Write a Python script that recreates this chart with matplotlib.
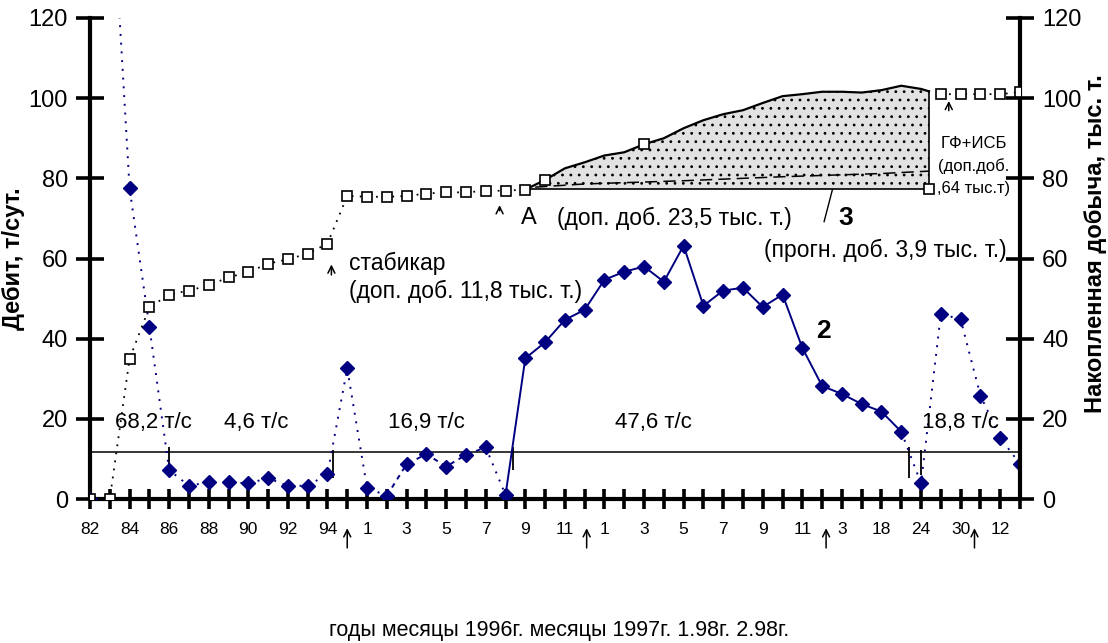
import numpy as np
import matplotlib.pyplot as plt

plt.rcParams['font.family'] = ['Liberation Sans', 'DejaVu Sans']
plt.rcParams['hatch.linewidth'] = 0.8

# --- данные ---
idx = np.arange(48)

years = ['82', '', '84', '', '86', '', '88', '', '90', '', '92', '', '94', '']
m1996 = ['1', '', '3', '', '5', '', '7', '', '9', '', '11', '']
m1997 = ['1', '', '3', '', '5', '', '7', '', '9', '', '11', '']
tail = ['3', '', '18', '', '24', '', '30', '', '12', '']
x_labels = years + m1996 + m1997 + tail

# дебит, т/сут (ромбы); точка 1 за пределами шкалы
debit = [0, 162, 77.5, 43, 7.2, 3.3, 4.2, 4.2, 3.9, 5.2, 3.3, 3.3, 6.2, 32.6,
         2.8, 0.8, 8.7, 11.2, 8.1, 11, 12.9, 1.0, 35.1, 39.1, 44.7, 47.2,
         54.7, 56.7, 58, 54.2, 63.2, 48.2, 52, 52.7, 47.9, 51, 37.7, 28.2,
         26.2, 23.7, 21.8, 16.8, 3.9, 46.2, 44.8, 25.8, 15.3, 8.7]
# участки линии дебита: (начало, конец, стиль)
debit_segments = [(1, 15, 'dot'), (15, 20, 'dash'), (20, 21, 'dot'),
                  (21, 41, 'solid'), (41, 47, 'dot')]

# накопленная добыча, тыс. т (квадраты)
cum_x = list(range(23))
cum_y = [0, 0, 35, 47.8, 51, 52, 53.3, 55.3, 56.6, 58.7, 59.8, 61.2, 63.7,
         75.6, 75.4, 75.4, 75.6, 76.2, 76.5, 76.5, 76.9, 76.9, 77.2]

# доп. добыча (заштрихованная область)
shade_x = list(range(22, 43)) + [42.4]
shade_top = [77.2, 79.6, 82.5, 84, 85.7, 86.5, 88.5, 90, 92.5, 94.5, 96, 97,
             98.8, 100.5, 101, 101.6, 101.6, 101.4, 102, 103.1, 102.3, 101.7]
shade_base = 77.3

# прогноз (кривая 3)
fc_x = [22.5, 25, 30, 35, 40, 42.4]
fc_y = [77.8, 78.6, 79.4, 80.4, 81.2, 81.8]

cum_late_x = [43, 44, 45, 46, 47]
cum_late_y = [101, 101, 101, 101, 101.5]

avg_level = 11.7
bound_x = [4, 12.3, 21.4, 41.4, 42.0]
bound_lo = [6.4, 5.2, 7.2, 5.2, 6.0]
bound_hi = [13, 12.2, 13, 13, 12.2]

period_labels = ['68,2 т/с', '4,6 т/с', '16,9 т/с', '47,6 т/с', '18,8 т/с']
period_x = [3.2, 8.4, 17.0, 28.5, 44.0]

arrow_x = [13, 25.1, 37.2, 44.7]

NAVY = '#000080'
styles = {'dot': (0, (1, 3.5)), 'dash': (0, (2.5, 2.5)), 'solid': '-'}

fig = plt.figure(figsize=(11.08, 6.43), dpi=100)
ax = fig.add_axes([90 / 1108, 144 / 643, 930 / 1108, 481 / 643])
ax2 = ax.twinx()

for a in (ax, ax2):
    a.set_xlim(0, 47)
    a.set_ylim(0, 120)
    a.set_yticks(range(0, 121, 20))
    for s in a.spines.values():
        s.set_linewidth(3)
    a.spines['top'].set_visible(False)
ax.spines['right'].set_visible(False)
ax2.spines['left'].set_visible(False)
ax2.spines['bottom'].set_visible(False)

ax.set_xticks(idx)
ax.set_xticklabels(x_labels)
ax.tick_params(axis='x', direction='inout', length=15, width=2.6,
               labelsize=12.5, pad=9)
ax.tick_params(axis='y', direction='inout', length=20, width=2.6,
               labelsize=17, pad=6)
ax2.tick_params(axis='y', direction='inout', length=20, width=2.6,
                labelsize=17, pad=6)

# средний уровень и границы периодов
ax.axhline(avg_level, color='black', lw=1.1, zorder=2)
ax.vlines(bound_x, bound_lo, bound_hi, color='black', lw=1.3, zorder=2)

# дебит
d = np.array(debit)
for a0, a1, st in debit_segments:
    ax.plot(idx[a0:a1 + 1], d[a0:a1 + 1], color=NAVY, lw=1.4,
            linestyle=styles[st], zorder=3)
ax.plot(idx, d, linestyle='none', marker='D', ms=7.5, color=NAVY, zorder=4)

# накопленная добыча
ax2.fill_between(shade_x, shade_base, shade_top, facecolor='#e2e2e2',
                 edgecolor='black', hatch='..', linewidth=0, zorder=1)
ax2.plot(shade_x, shade_top, color='black', lw=1.6, zorder=3,
         marker='s', ms=6.5, mfc='white', mec='black', mew=1.2,
         markevery=[1, 6])
ax2.plot([shade_x[0], shade_x[-1]], [shade_base, shade_base], color='black',
         lw=1.2, zorder=3)
ax2.plot([shade_x[-1], shade_x[-1]], [shade_base, shade_top[-1]],
         color='black', lw=1.2, zorder=3)
ax2.plot([shade_x[-1]], [shade_base], linestyle='none', marker='s', ms=6.5,
         mfc='white', mec='black', mew=1.2, zorder=4)
ax2.plot(fc_x, fc_y, color='black', lw=1.1, linestyle=(0, (8, 4)), zorder=3)
ax2.plot(cum_x, cum_y, color='black', lw=1.3, linestyle=(0, (1, 3.5)),
         marker='s', ms=6.5, mfc='white', mec='black', mew=1.2, zorder=4)
ax2.plot(cum_late_x, cum_late_y, color='black', lw=1.3,
         linestyle=(0, (1, 3.5)), marker='s', ms=6.5, mfc='white',
         mec='black', mew=1.2, zorder=4)

# подписи
for lab, px in zip(period_labels, period_x):
    ax.text(px, 19, lab, fontsize=16, ha='center', va='center')

ax.text(13.1, 58.8, 'стабикар', fontsize=16.5, ha='left', va='center')
ax.text(13.1, 51.7, '(доп. доб. 11,8 тыс. т.)', fontsize=16.5,
        ha='left', va='center')
ax.text(21.8, 70, 'А', fontsize=17, ha='left', va='center')
ax.text(23.6, 70, '(доп. доб. 23,5 тыс. т.)', fontsize=16.5,
        ha='left', va='center')
ax.text(38.2, 70, '3', fontsize=19, fontweight='bold', ha='center',
        va='center')
ax.plot([37.1, 37.6], [69.2, 78.7], color='black', lw=1.0)
ax.text(46.3, 62, '(прогн. доб. 3,9 тыс. т.)', fontsize=16.5, ha='right',
        va='center')
ax.text(44.65, 88.7, 'ГФ+ИСБ', fontsize=12, ha='center', va='center')
ax.text(44.65, 83, '(доп.доб.', fontsize=12, ha='center', va='center')
ax.text(44.65, 77.5, ',64 тыс.т)', fontsize=12, ha='center', va='center')
ax.text(37.05, 42, '2', fontsize=19, fontweight='bold', ha='center',
        va='center')

# стрелки
arr = dict(arrowstyle='->,head_length=0.5,head_width=0.25', lw=1.1,
           color='black')
for xa in arrow_x:
    ax.annotate('', xy=(xa, -6.6), xytext=(xa, -12.9), arrowprops=arr,
                annotation_clip=False)
ax.annotate('', xy=(12.2, 59.2), xytext=(12.2, 55.2), arrowprops=arr)
ax.annotate('', xy=(20.7, 74.0), xytext=(20.7, 71.2), arrowprops=arr)
ax.annotate('', xy=(43.4, 100.0), xytext=(43.4, 96.2), arrowprops=arr)

ax.set_ylabel('Дебит, т/сут.', fontsize=17, fontweight='bold')
ax.yaxis.set_label_coords(-0.07, 0.5)
ax2.set_ylabel('Накопленная добыча, тыс. т.', fontsize=17,
               fontweight='bold', rotation=90)
ax2.yaxis.set_label_coords(1.069, 0.53)
fig.text(0.505, 0.02, 'годы месяцы 1996г. месяцы 1997г. 1.98г. 2.98г.',
         fontsize=15.5, ha='center', va='center')

fig.savefig('out.png', dpi=100)
